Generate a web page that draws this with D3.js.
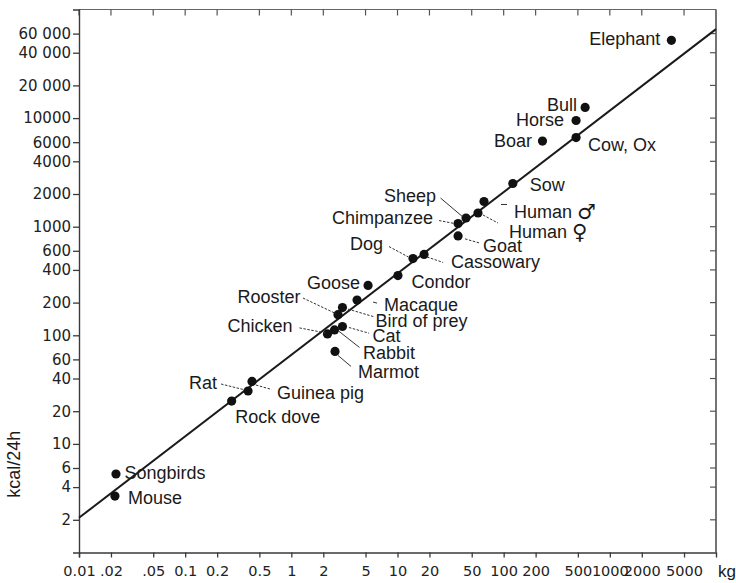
<!DOCTYPE html>
<html>
<head>
<meta charset="utf-8">
<script src="https://cdn.jsdelivr.net/npm/d3@7"></script>
<style>
  html, body { margin: 0; padding: 0; background: #fff; }
  svg { display: block; }
  .lbl { font-family: "Liberation Sans", Arial, sans-serif; font-size: 18px; fill: #1a1a1a; }
  .tick text { font-family: "DejaVu Sans", sans-serif; font-size: 15px; fill: #222; }
</style>
</head>
<body>
<svg id="chart" width="736" height="583"></svg>
<script>
// ---------------- data ----------------
const animals = ["Songbirds","Mouse","Rock dove","Rat","Guinea pig","Chicken","Rabbit","Cat","Marmot",
  "Rooster","Bird of prey","Macaque","Goose","Condor","Dog","Cassowary","Goat","Chimpanzee","Sheep",
  "Human ♀","Human ♂","Sow","Boar","Cow, Ox","Horse","Bull","Elephant"];
const massKg = [0.0223,0.0218,0.274,0.391,0.426,2.19,2.55,3.03,2.58,
  2.75,3.03,4.16,5.28,10.1,14.0,17.8,37.2,37.2,44.2,
  57.3,65.3,122,232,481,481,585,3800];
const kcalPerDay = [5.28,3.31,24.8,30.7,37.6,103,112,120.5,71,
  155,180,211,288,355,509,555,823,1069,1202,
  1337,1706,2500,6150,6620,9500,12530,52000];
// regression line: kcal/24h = lineCoef * kg ^ lineExp
const lineCoef = 66;
const lineExp = 0.75;

const xTickValues = [0.01,0.02,0.05,0.1,0.2,0.5,1,2,5,10,20,50,100,200,500,1000,2000,5000];
const xTickLabels = ["0.01",".02",".05","0.1","0.2","0.5","1","2","5","10","20","50","100","200","500","1000","2000","5000"];
const yTickValues = [2,4,6,10,20,40,60,100,200,400,600,1000,2000,4000,6000,10000,20000,40000,60000];
const yTickLabels = ["2","4","6","10","20","40","60","100","200","400","600","1000","2000","4000","6000","10000","20 000","40 000","60 000"];
const xUnit = "kg";
const yTitle = "kcal/24h";

// ---------------- label layout (offsets from the dot) ----------------
const labelLayout = {
  "Songbirds":   {a:"start", dx:8.5, dy:-1.5},
  "Mouse":       {a:"start", dx:13, dy:1.5},
  "Rock dove":   {a:"start", dx:3.5, dy:15.5},
  "Rat":         {a:"end", dx:-31, dy:-7.7, l:[-27,-7,-4,-1.3]},
  "Guinea pig":  {a:"start", dx:25, dy:12, l:[4,3.6,19.5,8]},
  "Chicken":     {a:"end", dx:-35, dy:-7.5, l:[-28,-6,-2,-1]},
  "Rabbit":      {a:"start", dx:28.5, dy:23.5, l:[4,1,25,17.5], solid:true},
  "Cat":         {a:"start", dx:30, dy:9.6, l:[6.5,1,26.6,6.7]},
  "Marmot":      {a:"start", dx:23, dy:20.6, l:[3,4,16,15], solid:true},
  "Rooster":     {a:"end", dx:-37.5, dy:-17.5, l:[-35,-16.6,-2,-1]},
  "Bird of prey":{a:"start", dx:33, dy:13.5, l:[5.5,1.5,31,9]},
  "Macaque":     {a:"start", dx:27, dy:4.5, l:[16,2,20,3], solid:true},
  "Goose":       {a:"end", dx:-8, dy:-2},
  "Condor":      {a:"start", dx:13.5, dy:6},
  "Dog":         {a:"end", dx:-30, dy:-15, l:[-24,-12,-4.5,-1.5]},
  "Cassowary":   {a:"start", dx:27, dy:7.5, l:[3,2.5,19,8]},
  "Goat":        {a:"start", dx:25, dy:10, l:[7,3,21,7]},
  "Chimpanzee":  {a:"end", dx:-25, dy:-6, l:[-19,-3,-3.4,0]},
  "Sheep":       {a:"end", dx:-30, dy:-22.5, l:[-25.5,-20,-3.4,-1.3], solid:true},
  "Human ♀":     {a:"start", dx:31, dy:18.5, l:[5,2,20,10]},
  "Human ♂":     {a:"start", dx:30, dy:10, l:[17,3,23,3], solid:true},
  "Sow":         {a:"start", dx:17, dy:2},
  "Boar":        {a:"end", dx:-10.5, dy:0},
  "Cow, Ox":     {a:"start", dx:12, dy:7},
  "Horse":       {a:"end", dx:-12, dy:-1},
  "Bull":        {a:"end", dx:-8, dy:-2},
  "Elephant":    {a:"end", dx:-11, dy:-1.5}
};

// ---------------- chart ----------------
const svg = d3.select("#chart");
const plotL = 79, plotR = 716, plotT = 9.5, plotB = 552.5;

const x = d3.scaleLog().domain([0.01, 10000]).range([plotL, plotR]);
const y = d3.scaleLog().domain([1, 100000]).range([plotB, plotT]);

const axisColor = "#3a3a3a";

// frame: top and right sides
svg.append("line").attr("x1", plotL).attr("x2", plotR).attr("y1", plotT).attr("y2", plotT)
  .attr("stroke", "#666").attr("stroke-width", 1);
svg.append("line").attr("x1", plotR).attr("x2", plotR).attr("y1", plotT).attr("y2", plotB)
  .attr("stroke", axisColor).attr("stroke-width", 1.4);

// inner mirrored ticks
svg.append("g").selectAll("line").data(xTickValues).join("line")
  .attr("x1", d => x(d)).attr("x2", d => x(d)).attr("y1", plotT).attr("y2", plotT + 6)
  .attr("stroke", "#555").attr("stroke-width", 1.2);
svg.append("g").selectAll("line").data(yTickValues).join("line")
  .attr("x1", plotR - 6).attr("x2", plotR).attr("y1", d => y(d)).attr("y2", d => y(d))
  .attr("stroke", "#555").attr("stroke-width", 1.2);

// axes
const gx = svg.append("g").attr("transform", `translate(0,${plotB})`)
  .call(d3.axisBottom(x).tickValues(xTickValues).tickFormat((d, i) => xTickLabels[i])
    .tickSizeOuter(0).tickSize(5).tickPadding(8));
const gy = svg.append("g").attr("transform", `translate(${plotL},0)`)
  .call(d3.axisLeft(y).tickValues(yTickValues).tickFormat((d, i) => yTickLabels[i])
    .tickSizeOuter(0).tickSize(6).tickPadding(2));
[gx, gy].forEach(g => {
  g.select(".domain").attr("stroke", axisColor).attr("stroke-width", 1.4);
  g.selectAll(".tick line").attr("stroke", axisColor).attr("stroke-width", 1.3);
});
gx.selectAll(".tick text").style("font-size", "14.5px");

// unit + title
svg.append("text").attr("class", "lbl").attr("x", 718).attr("y", 577)
  .style("font-size", "17px").text(xUnit);
svg.append("text").attr("class", "lbl")
  .attr("transform", `translate(14,${y(6.5)}) rotate(-90)`)
  .attr("text-anchor", "middle").attr("dominant-baseline", "central")
  .style("font-size", "18px").text(yTitle);

// regression line
const lineData = x.domain().map(m => [m, lineCoef * Math.pow(m, lineExp)]);
svg.append("path").datum(lineData)
  .attr("d", d3.line().x(d => x(d[0])).y(d => y(d[1])))
  .attr("stroke", "#1a1a1a").attr("stroke-width", 2).attr("fill", "none");

// points
const pts = animals.map((n, i) => ({name: n, m: massKg[i], k: kcalPerDay[i]}));
svg.append("g").selectAll("circle").data(pts).join("circle")
  .attr("cx", d => x(d.m)).attr("cy", d => y(d.k)).attr("r", 4.6).attr("fill", "#111");

// leader lines
svg.append("g").selectAll("line").data(pts.filter(d => labelLayout[d.name].l)).join("line")
  .each(function(d) {
    const L = labelLayout[d.name].l, cx = x(d.m), cy = y(d.k);
    d3.select(this).attr("x1", cx + L[0]).attr("y1", cy + L[1]).attr("x2", cx + L[2]).attr("y2", cy + L[3]);
  })
  .attr("stroke", "#333").attr("stroke-width", 1)
  .attr("stroke-dasharray", d => labelLayout[d.name].solid ? null : "2.5,1.5");

// labels
const labels = svg.append("g").selectAll("text").data(pts).join("text")
  .attr("class", "lbl")
  .attr("x", d => x(d.m) + labelLayout[d.name].dx)
  .attr("y", d => y(d.k) + labelLayout[d.name].dy)
  .attr("text-anchor", d => labelLayout[d.name].a)
  .attr("dominant-baseline", "central");
labels.each(function(d) {
  const t = d3.select(this);
  const m = d.name.match(/^(.*?)([♂♀])$/);
  if (m) {
    t.append("tspan").text(m[1]);
    t.append("tspan")
      .style("font-family", "'DejaVu Sans'")
      .style("font-size", "21px")
      .style("fill", "#1a1a1a")
      .text(m[2] + "\uFE0E");
  } else {
    t.text(d.name);
  }
});
</script>
</body>
</html>
